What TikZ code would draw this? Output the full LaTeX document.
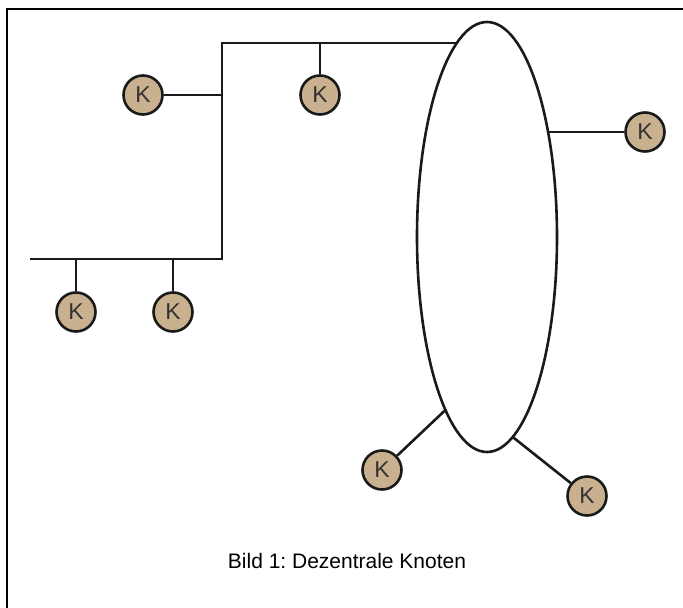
\documentclass[tikz,border=0pt]{standalone}
\usepackage{fontspec}
\setmainfont{Liberation Sans}
\usetikzlibrary{shapes.geometric}
\definecolor{tan}{HTML}{C9B18F}
\definecolor{ink}{HTML}{1A1A1A}
\frenchspacing
\begin{document}
\begin{tikzpicture}[x=1pt,y=-1pt,
  knode/.style={circle,draw=ink,line width=2.6pt,fill=tan,minimum size=39pt,inner sep=0pt,font=\fontsize{23}{23}\selectfont,text=black!80},
  wire/.style={draw=ink,line width=2.6pt},
  frame/.style={draw=black,line width=2.4pt}]
\useasboundingbox (0,0) rectangle (683,608);
% frame
\draw[frame] (7,700) -- (7,9) -- (700,9);
% ellipse
\node[ellipse,draw=ink,line width=2.6pt,minimum width=140pt,minimum height=430pt,inner sep=0pt] (E) at (487,237) {};
% bus points
\coordinate (ptop) at (456.8,43);
\coordinate (pc) at (222,43);
\coordinate (pm) at (222,95);
\coordinate (pb) at (222,259);
\coordinate (pl) at (30,259);
\coordinate (p1) at (320,43);
\coordinate (p2) at (76,259);
\coordinate (p3) at (173,259);
\coordinate (er) at (548.1,132);
\coordinate (ebl) at (445.4,410);
\coordinate (ebr) at (512.7,437);
% nodes
\node[knode] (k1) at (143,95) {K};
\node[knode] (k2) at (320,95) {K};
\node[knode] (k3) at (76,312) {K};
\node[knode] (k4) at (173,312) {K};
\node[knode] (k5) at (645,132) {K};
\node[knode] (k6) at (382,470) {K};
\node[knode] (k7) at (587,496) {K};
% wires
\draw[wire] (ptop) -- (pc) -- (pb) -- (pl);
\draw[wire] (k1) -- (pm);
\draw[wire] (p1) -- (k2);
\draw[wire] (p2) -- (k3);
\draw[wire] (p3) -- (k4);
\draw[wire] (er) -- (k5);
\draw[wire] (ebl) -- (k6);
\draw[wire] (ebr) -- (k7);
% caption
\node[anchor=base,font=\fontsize{21}{21}\selectfont,inner sep=0pt] (cap) at (347,568) {Bild 1: Dezentrale Knoten};
\end{tikzpicture}
\end{document}
